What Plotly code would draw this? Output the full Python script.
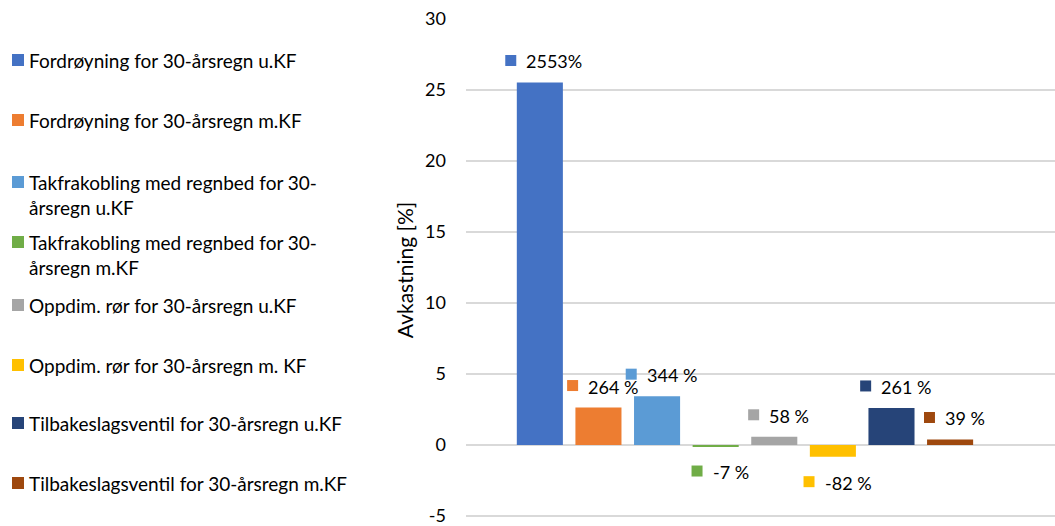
import plotly.graph_objects as go

# Investment return per measure (percent)
series_names = [
    "Fordrøyning for 30-årsregn u.KF",
    "Fordrøyning for 30-årsregn m.KF",
    "Takfrakobling med regnbed for 30-<br>årsregn u.KF",
    "Takfrakobling med regnbed for 30-<br>årsregn m.KF",
    "Oppdim. rør for 30-årsregn u.KF",
    "Oppdim. rør for 30-årsregn m. KF",
    "Tilbakeslagsventil for 30-årsregn u.KF",
    "Tilbakeslagsventil for 30-årsregn m.KF",
]
return_pct = [2553, 264, 344, -7, 58, -82, 261, 39]
value_labels = ["2553%", "264 %", "344 %", "-7 %", "58 %", "-82 %", "261 %", "39 %"]
colors = ["#4472C4", "#ED7D31", "#5B9BD5", "#70AD47",
          "#A5A5A5", "#FFC000", "#264478", "#9E480E"]
y_ticks = [-5, 0, 5, 10, 15, 20, 25, 30]
y_tick_labels = ["-5", "0", "5", "10", "15", "20", "25", "30"]

values = [p / 100 for p in return_pct]

W, H = 1055, 526
ML, MR, MT, MB = 466, 0, 19, 5
PW, PH = W - ML - MR, H - MT - MB

def px_x(px):
    return (px - ML) / PW

def px_y(py):
    return (H - MB - py) / PH

FONT = "Lato"
TXT = "#000000"
LABEL_SIZE = 18
LEGEND_SIZE = 19

# rough advance widths (em) used to centre square + label text
CHAR_EM = {"%": 0.80, " ": 0.22, "-": 0.36}

def text_width(s, size):
    return sum(CHAR_EM.get(ch, 0.58) for ch in s) * size

fig = go.Figure()
xs = list(range(len(values)))
fig.add_trace(go.Bar(
    x=xs, y=values, marker=dict(color=colors, line=dict(width=0)),
    showlegend=False, hoverinfo="skip",
))

annotations = []
shapes = []
SQ, GAP = 11, 8
for i, (v, lab, c) in enumerate(zip(values, value_labels, colors)):
    tw = text_width(lab, LABEL_SIZE)
    left = 3 - (SQ + GAP + tw) / 2
    cy = 22 if v >= 0 else -25
    shapes.append(dict(
        type="rect", xref="x", yref="y", xsizemode="pixel", ysizemode="pixel",
        xanchor=i, yanchor=v, x0=left, x1=left + SQ,
        y0=cy - SQ / 2, y1=cy + SQ / 2,
        fillcolor=c, line=dict(width=0),
    ))
    annotations.append(dict(
        x=i, y=v, xref="x", yref="y", showarrow=False, text=lab,
        font=dict(family=FONT, size=LABEL_SIZE, color=TXT),
        xanchor="left", yanchor="middle",
        xshift=left + SQ + GAP, yshift=cy - 1,
    ))

# Legend drawn as squares + text on the left
legend_y = [60, 120, 182, 242, 305, 365, 423, 483]
for name, c, ly in zip(series_names, colors, legend_y):
    shapes.append(dict(
        type="rect", xref="paper", yref="paper",
        x0=px_x(12), x1=px_x(24), y0=px_y(ly + 6), y1=px_y(ly - 6),
        fillcolor=c, line=dict(width=0),
    ))
    annotations.append(dict(
        x=px_x(27), y=px_y(ly - 13), xref="paper", yref="paper",
        showarrow=False, text=name, align="left",
        xanchor="left", yanchor="top",
        font=dict(family=FONT, size=LEGEND_SIZE, color=TXT),
    ))

fig.update_layout(
    width=W, height=H,
    margin=dict(l=ML, r=MR, t=MT, b=MB, pad=0),
    paper_bgcolor="white", plot_bgcolor="white",
    bargap=0.214,
    xaxis=dict(range=[-1.26, 8.79], showticklabels=False, showgrid=False,
               zeroline=False, showline=False, ticks=""),
    yaxis=dict(range=[-5.35, 30], tickvals=y_ticks, ticktext=y_tick_labels,
               showgrid=True, gridcolor="#D9D9D9", gridwidth=1.5,
               zeroline=True, zerolinecolor="#D9D9D9", zerolinewidth=1.5,
               showline=False, ticks="", ticklabelstandoff=19,
               ticklabeloverflow="allow",
               tickfont=dict(family=FONT, size=18, color=TXT),
               title=dict(text="Avkastning [%]", standoff=5,
                          font=dict(family=FONT, size=21, color=TXT))),
    annotations=annotations, shapes=shapes,
)

fig.write_html("out.html")
